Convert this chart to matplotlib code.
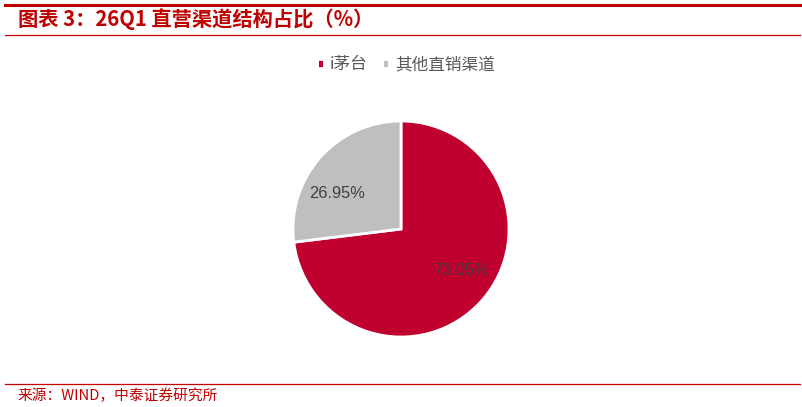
import matplotlib.pyplot as plt
from matplotlib.lines import Line2D

plt.rcParams['font.family'] = ['Noto Sans CJK SC', 'DejaVu Sans']

# ---- Data ----
labels = ["i茅台", "其他直销渠道"]
shares = [73.05, 26.95]   # %
colors = ["#C0002F", "#BFBFBF"]

title = "图表 3：26Q1 直营渠道结构占比（%）"
source = "来源：WIND，中泰证券研究所"
red = "#C00000"

W, H = 803, 407
fig = plt.figure(figsize=(W / 100, H / 100), dpi=100)

# header / footer rules
fig.add_artist(Line2D([5 / W, 800 / W], [1 - 5 / H, 1 - 5 / H], color=red, lw=2.2))
fig.add_artist(Line2D([5 / W, 800 / W], [1 - 35 / H, 1 - 35 / H], color=red, lw=0.9))
fig.add_artist(Line2D([5 / W, 800 / W], [1 - 384 / H, 1 - 384 / H], color=red, lw=0.9))

fig.text(18 / W, 1 - 19 / H, title, color=red, fontsize=14.6, fontweight="bold",
         style="italic", va="center", ha="left")
fig.text(18 / W, 1 - 396 / H, source, color=red, fontsize=10.6, va="center", ha="left")

# pie
ax = fig.add_axes([293 / W, 70 / H, 216 / W, 216 / H])
wedges, _, autotexts = ax.pie(shares, colors=colors, startangle=90, counterclock=False,
                              autopct="%.2f%%", pctdistance=0.68,
                              wedgeprops=dict(edgecolor="white", linewidth=2),
                              textprops=dict(color="#404040", fontsize=11.8,
                                             family="Liberation Sans"))
# nudge labels toward where the source report places them
for t, (dx, dy) in zip(autotexts, [(0.05, 0.07), (-0.08, -0.12)]):
    x, y = t.get_position()
    t.set_position((x + dx, y + dy))
ax.set_aspect("equal")
ax.set_xlim(-1, 1)
ax.set_ylim(-1, 1)

fig.legend(wedges, labels, loc="center", bbox_to_anchor=(406 / W, 1 - 65 / H),
           ncol=2, frameon=False, fontsize=12, handlelength=0.4, handleheight=0.4,
           handletextpad=0.35, columnspacing=0.9, labelcolor="#595959")

plt.savefig("out.png", dpi=100)
